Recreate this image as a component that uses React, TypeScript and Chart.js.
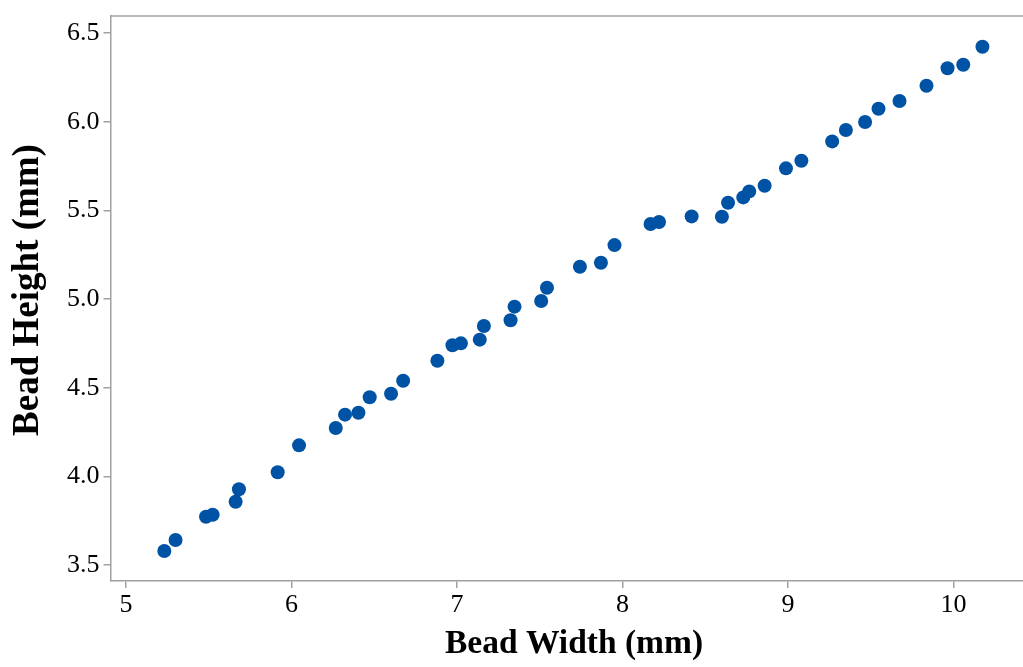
import React, { useEffect, useRef } from "react";
import { Chart, registerables } from "chart.js";

Chart.register(...registerables);

const beadWidth = [
  5.232, 5.3, 5.484, 5.524, 5.663, 5.683, 5.917, 6.046, 6.268, 6.324,
  6.405, 6.473, 6.602, 6.675, 6.882, 6.973, 7.024, 7.138, 7.163, 7.324,
  7.348, 7.509, 7.544, 7.743, 7.87, 7.952, 8.17, 8.221, 8.418, 8.601,
  8.638, 8.73, 8.766, 8.859, 8.988, 9.081, 9.267, 9.35, 9.466, 9.547,
  9.674, 9.837, 9.964, 10.059, 10.175,
];
const beadHeight = [
  3.579, 3.641, 3.772, 3.784, 3.857, 3.927, 4.023, 4.175, 4.273, 4.348,
  4.359, 4.446, 4.466, 4.539, 4.652, 4.739, 4.75, 4.771, 4.848, 4.88,
  4.957, 4.989, 5.064, 5.182, 5.205, 5.304, 5.423, 5.434, 5.466, 5.464,
  5.543, 5.573, 5.607, 5.639, 5.737, 5.78, 5.889, 5.953, 5.998, 6.073,
  6.117, 6.203, 6.301, 6.321, 6.423,
];
const xTicks = [5, 6, 7, 8, 9, 10];
const yTicks = [3.5, 4.0, 4.5, 5.0, 5.5, 6.0, 6.5];
const xTitle = "Bead Width (mm)";
const yTitle = "Bead Height (mm)";

const AXIS_GRAY = "#a0a0a0";
const SERIF = "'Liberation Serif', 'Times New Roman', serif";

const framePlugin = {
  id: "frameAndTitles",
  afterDraw(chart: any) {
    const { ctx, chartArea } = chart;
    ctx.save();
    ctx.strokeStyle = AXIS_GRAY;
    ctx.lineWidth = 1.5;
    ctx.beginPath();
    ctx.moveTo(chartArea.left, chartArea.top);
    ctx.lineTo(chartArea.right, chartArea.top);
    ctx.stroke();

    ctx.fillStyle = "#000";
    ctx.textAlign = "center";
    ctx.textBaseline = "alphabetic";
    ctx.font = `bold 33.5px ${SERIF}`;
    ctx.fillText(xTitle, 574, 653);

    ctx.translate(38, 290);
    ctx.rotate(-Math.PI / 2);
    ctx.font = `bold 37px ${SERIF}`;
    ctx.fillText(yTitle, 0, 0);
    ctx.restore();
  },
};

export default function App() {
  const ref = useRef<HTMLCanvasElement | null>(null);
  useEffect(() => {
    if (!ref.current) return;
    const tickFont = { family: SERIF, size: 26 };
    const chart = new Chart(ref.current, {
      type: "scatter",
      data: {
        datasets: [
          {
            data: beadWidth.map((x, i) => ({ x, y: beadHeight[i] })),
            backgroundColor: "#0052A4",
            borderWidth: 0,
            pointRadius: 7,
            pointHoverRadius: 7,
          },
        ],
      },
      options: {
        animation: false,
        responsive: false,
        devicePixelRatio: 1,
        layout: { autoPadding: false, padding: { top: 16, right: 0, left: 0, bottom: 0 } },
        plugins: { legend: { display: false }, tooltip: { enabled: false } },
        scales: {
          x: {
            type: "linear",
            min: 4.907,
            max: 10.42,
            afterBuildTicks: (s: any) => {
              s.ticks = xTicks.map((v) => ({ value: v }));
            },
            afterFit: (s: any) => {
              s.height = 86;
              s.paddingLeft = 0;
              s.paddingRight = 0;
            },
            grid: { drawOnChartArea: false, drawTicks: true, tickLength: 7, color: AXIS_GRAY, lineWidth: 1.5 },
            border: { display: true, color: AXIS_GRAY, width: 1.5 },
            ticks: { font: tickFont, color: "#000", padding: 2, callback: (v: any) => String(v), maxRotation: 0 },
            title: { display: false },
          },
          y: {
            type: "linear",
            min: 3.41,
            max: 6.596,
            afterBuildTicks: (s: any) => {
              s.ticks = yTicks.map((v) => ({ value: v }));
            },
            afterFit: (s: any) => {
              s.width = 110.5;
              s.paddingTop = 0;
              s.paddingBottom = 0;
            },
            grid: { drawOnChartArea: false, drawTicks: true, tickLength: 7, color: AXIS_GRAY, lineWidth: 1.5 },
            border: { display: true, color: AXIS_GRAY, width: 1.5 },
            ticks: { font: tickFont, color: "#000", padding: 4, callback: (v: any) => Number(v).toFixed(1) },
            title: { display: false },
          },
        },
      },
      plugins: [framePlugin],
    });
    return () => chart.destroy();
  }, []);
  return (
    <div style={{ position: "absolute", left: 0, top: 0, width: 1023, height: 667, background: "#fff" }}>
      <canvas ref={ref} width={1023} height={667} style={{ display: "block", width: 1023, height: 667 }} />
    </div>
  );
}
